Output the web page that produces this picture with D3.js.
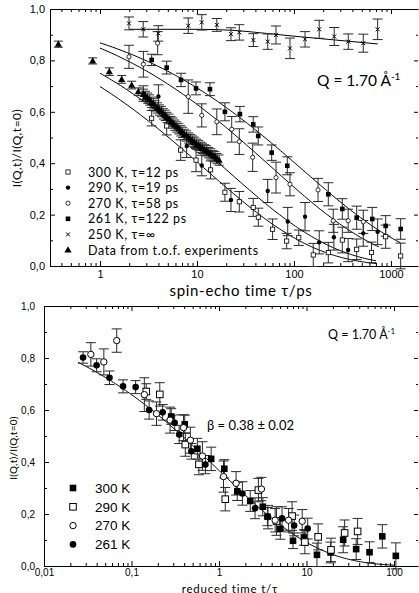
<!DOCTYPE html>
<html>
<head>
<meta charset="utf-8">
<script src="https://cdn.jsdelivr.net/npm/d3@7"></script>
<style>
  body { margin: 0; background: #fff; }
  svg { display: block; }
</style>
</head>
<body>
<svg id="fig" width="419" height="593"></svg>
<script>
// ---- measured intermediate scattering function I(Q,t)/I(Q,0), Q = 1.70 1/Å ----
// each point: [spin-echo time t (ps), I(Q,t)/I(Q,0), error]
const temps = ["300 K", "290 K", "270 K", "261 K"];
const tauPs = [12, 19, 58, 122];            // KWW relaxation times
const betaKWW = 0.38;                       // stretching exponent
const fitAmp = [1.03, 1.04, 1.05, 1.02];    // fit amplitudes
const fitEnd = [700, 700, 750, 1250];       // last time of each fit line (ps)

const data300 = [
  [3.41,0.575,0.030],[4.87,0.545,0.035],[6.79,0.451,0.040],[9.77,0.412,0.045],
  [13.8,0.374,0.035],[19.4,0.287,0.035],[27.3,0.250,0.040],[38,0.228,0.035],
  [42.9,0.190,0.035],[60.2,0.143,0.040],[84.1,0.097,0.030],[112,0.110,0.030],
  [158,0.043,0.045],[226,0.052,0.040],[315,0.101,0.050],[443,0.065,0.040],
  [630,0.053,0.040],[882,0.114,0.045],[1259,0.039,0.050]
];
const data290 = [
  [2.80,0.671,0.030],[4.0,0.660,0.045],[7.83,0.467,0.045],[11.2,0.391,0.040],
  [22.4,0.257,0.045],[53.6,0.292,0.045],[86.2,0.173,0.055],[130,0.192,0.055],
  [182,0.092,0.045],[258,0.112,0.050],[362,0.062,0.045],[518,0.127,0.050],
  [729,0.133,0.050]
];
const data270 = [
  [1.99,0.814,0.045],[2.80,0.785,0.050],[3.93,0.867,0.045],[8.13,0.659,0.065],
  [11.2,0.586,0.045],[16.0,0.561,0.050],[22.8,0.532,0.050],[27.3,0.484,0.050],
  [37.5,0.423,0.055],[65.3,0.344,0.060],[90.9,0.318,0.045],[177,0.296,0.045],
  [254,0.176,0.045],[362,0.176,0.045],[518,0.172,0.045]
];
const data261 = [
  [3.41,0.802,0.022],[4.87,0.772,0.025],[6.84,0.724,0.026],[9.77,0.691,0.025],
  [13.6,0.688,0.025],[19.4,0.600,0.035],[27.7,0.591,0.030],[38.0,0.551,0.030],
  [42.8,0.506,0.035],[58.9,0.441,0.030],[85.3,0.390,0.035],[226,0.279,0.045],
  [315,0.222,0.040],[443,0.188,0.045],[641,0.183,0.045],[882,0.156,0.040],
  [1259,0.144,0.040]
];
const data250 = [
  [1.99,0.944,0.025],[2.79,0.921,0.030],[3.99,0.905,0.030],[8.13,0.935,0.030],
  [11.2,0.948,0.030],[16.0,0.938,0.025],[22.4,0.902,0.025],[27.3,0.909,0.030],
  [38.1,0.879,0.025],[53.6,0.873,0.030],[65.2,0.899,0.035],[90.9,0.847,0.040],
  [130,0.882,0.030],[182,0.921,0.035],[260,0.893,0.035],[363,0.873,0.030],
  [518,0.867,0.035],[729,0.921,0.040]
];
// guide line through the 250 K (glassy) plateau: [t, value]
const guide250 = [[2,0.921],[10,0.921],[23.5,0.917],[52,0.905],[116,0.892],[730,0.864]];
// time-of-flight data
const dataTof = [
  [0.372,0.863,0.012],[0.841,0.798,0.012],[1.247,0.756,0.015],[1.673,0.726,0.015],
  [2.12,0.704,0.015],[2.48,0.678,0.015],[2.8,0.668,0.02],[2.95,0.660,0.02],
  [3.1,0.653,0.02],[3.25,0.646,0.02],[3.4,0.637,0.02],[3.55,0.631,0.02],
  [3.7,0.623,0.02],[3.9,0.615,0.02],[4.1,0.607,0.02],[4.3,0.601,0.02],
  [4.5,0.592,0.02],[4.7,0.586,0.02],[4.9,0.578,0.02],[5.15,0.571,0.02],
  [5.4,0.562,0.02],[5.65,0.556,0.02],[5.9,0.548,0.02],[6.2,0.541,0.02],
  [6.5,0.534,0.02],[6.8,0.526,0.02],[7.1,0.520,0.02],[7.4,0.512,0.02],
  [7.8,0.506,0.02],[8.2,0.498,0.02],[8.6,0.492,0.02],[9.0,0.486,0.02],
  [9.4,0.481,0.02],[9.9,0.474,0.02],[10.4,0.469,0.02],[10.9,0.462,0.02],
  [11.4,0.458,0.02],[12.0,0.452,0.02],[12.6,0.448,0.02],[13.2,0.441,0.02],
  [13.9,0.436,0.02],[14.6,0.429,0.02],[15.3,0.425,0.02],[16.1,0.418,0.02],
  [16.9,0.412,0.02]
];
const topLegend = ["300 K, τ=12 ps", "290 K, τ=19 ps", "270 K, τ=58 ps",
                   "261 K, τ=122 ps", "250 K, τ=∞", "Data from t.o.f. experiments"];
const topXTicks = [1, 10, 100, 1000];
const bottomXTicks = [0.01, 0.1, 1, 10, 100];
const yTicks = [0, 0.2, 0.4, 0.6, 0.8, 1.0];

const svg = d3.select("#fig");
const comma = d3.format(".1f");
const fmtY = v => comma(v).replace(".", ",");
const fmtX = v => String(v).replace(".", ",");
const humanist = "Lato, 'Open Sans', sans-serif";
const grotesk = "'Liberation Sans', Arial, sans-serif";

function minorLog(domain) {
  const out = [];
  for (let e = -3; e <= 4; e++) {
    for (let m = 2; m <= 9; m++) {
      const v = m * Math.pow(10, e);
      if (v > domain[0] && v < domain[1]) out.push(v);
    }
  }
  return out;
}

function kww(t, tau, a) { return a * Math.exp(-Math.pow(t / tau, betaKWW)); }
function logSpan(t0, t1, n) {
  return d3.range(n + 1).map(i => t0 * Math.pow(t1 / t0, i / n));
}

// ---------- marker painters ----------
function mark(g, kind, x, y, s) {
  if (kind === "openSquare") {
    g.append("rect").attr("x", x - s / 2).attr("y", y - s / 2).attr("width", s).attr("height", s)
      .attr("fill", "#fff").attr("stroke", "#000").attr("stroke-width", s > 5 ? 1 : 0.8);
  } else if (kind === "fillSquare") {
    g.append("rect").attr("x", x - s / 2).attr("y", y - s / 2).attr("width", s).attr("height", s)
      .attr("fill", "#000");
  } else if (kind === "openCircle") {
    g.append("circle").attr("cx", x).attr("cy", y).attr("r", s / 2)
      .attr("fill", "#fff").attr("stroke", "#000").attr("stroke-width", s > 5 ? 1 : 0.8);
  } else if (kind === "fillCircle") {
    g.append("circle").attr("cx", x).attr("cy", y).attr("r", s / 2).attr("fill", "#000");
  } else if (kind === "cross") {
    const h = s / 2;
    g.append("path").attr("d", `M${x - h},${y - h}L${x + h},${y + h}M${x - h},${y + h}L${x + h},${y - h}`)
      .attr("stroke", "#000").attr("stroke-width", 1);
  } else if (kind === "triangle") {
    g.append("path").attr("transform", `translate(${x},${y + 0.5})`)
      .attr("d", d3.symbol(d3.symbolTriangle, s * s * 0.75)()).attr("fill", "#000");
  }
}

function errorBars(g, pts, xs, ys, xKey, cap) {
  pts.forEach(p => {
    const x = xs(xKey(p)), y0 = ys(p[1] - p[2]), y1 = ys(p[1] + p[2]);
    g.append("path")
      .attr("d", `M${x},${y0}V${y1}M${x - cap},${y0}H${x + cap}M${x - cap},${y1}H${x + cap}`)
      .attr("stroke", "#2a2a2a").attr("stroke-width", 1).attr("fill", "none");
  });
}

function frame(xs, ys, xMajors, labelSize, padX, padY) {
  const g = svg.append("g").attr("class", "axes");
  const dom = xs.domain();
  const left = xs.range()[0], right = xs.range()[1];
  const top = ys.range()[1], bot = ys.range()[0];
  // bottom axis, major with labels
  const ax = g.append("g").attr("transform", `translate(0,${bot})`)
    .call(d3.axisBottom(xs).tickValues(xMajors).tickFormat(fmtX).tickSizeInner(-5).tickSizeOuter(0).tickPadding(padX));
  ax.selectAll("text").attr("font-family", grotesk).attr("font-size", labelSize).attr("fill", "#000");
  g.append("g").attr("transform", `translate(0,${bot})`)
    .call(d3.axisBottom(xs).tickValues(minorLog(dom)).tickFormat("").tickSizeInner(-3).tickSizeOuter(0))
    .call(s => s.select(".domain").remove());
  // top axis
  g.append("g").attr("transform", `translate(0,${top})`)
    .call(d3.axisTop(xs).tickValues(xMajors).tickFormat("").tickSizeInner(-5).tickSizeOuter(0));
  g.append("g").attr("transform", `translate(0,${top})`)
    .call(d3.axisTop(xs).tickValues(minorLog(dom)).tickFormat("").tickSizeInner(-3).tickSizeOuter(0))
    .call(s => s.select(".domain").remove());
  // left axis
  const ay = g.append("g").attr("transform", `translate(${left},0)`)
    .call(d3.axisLeft(ys).tickValues(yTicks).tickFormat(fmtY).tickSizeInner(-5).tickSizeOuter(0).tickPadding(padY));
  ay.selectAll("text").attr("font-family", grotesk).attr("font-size", labelSize).attr("fill", "#000");
  g.append("g").attr("transform", `translate(${left},0)`)
    .call(d3.axisLeft(ys).tickValues(d3.range(0.1, 1, 0.2)).tickFormat("").tickSizeInner(-3).tickSizeOuter(0))
    .call(s => s.select(".domain").remove());
  // right side: inward ticks only
  g.append("g").attr("transform", `translate(${right},0)`)
    .call(d3.axisRight(ys).tickValues(yTicks).tickFormat("").tickSizeInner(-4).tickSizeOuter(0))
    .call(s => s.select(".domain").remove());
  g.append("g").attr("transform", `translate(${right},0)`)
    .call(d3.axisRight(ys).tickValues(d3.range(0.1, 1, 0.2)).tickFormat("").tickSizeInner(-2).tickSizeOuter(0))
    .call(s => s.select(".domain").remove());
  g.selectAll(".domain").attr("stroke", "#000");
  g.selectAll(".tick line").attr("stroke", "#000");
}

// =================== upper panel: spin-echo time ===================
const xT = d3.scaleLog().domain([0.305, 1900]).range([50, 418]);
const yT = d3.scaleLinear().domain([0, 1]).range([266, 9]);
frame(xT, yT, topXTicks, 11, 4, 5);

const topLine = d3.line().x(d => xT(d[0])).y(d => yT(d[1]));
const gFitT = svg.append("g").attr("fill", "none").attr("stroke", "#000").attr("stroke-width", 1);
tauPs.forEach((tau, i) => {
  const pts = logSpan(1, fitEnd[i], 120).map(t => [t, kww(t, tau, fitAmp[i])]);
  gFitT.append("path").attr("d", topLine(pts));
});
gFitT.append("path").attr("d", d3.line().x(d => xT(d[0])).y(d => yT(d[1])).curve(d3.curveMonotoneX)(guide250));

const topSeries = [
  { pts: data300, kind: "openSquare", s: 4.2 },
  { pts: data290, kind: "fillCircle", s: 4.4 },
  { pts: data270, kind: "openCircle", s: 4.2 },
  { pts: data261, kind: "fillSquare", s: 4.6 },
  { pts: data250, kind: "cross", s: 4 },
  { pts: dataTof, kind: "triangle", s: 5.5 }
];
const gErrT = svg.append("g");
const gPtsT = svg.append("g");
topSeries.forEach(sr => {
  errorBars(gErrT, sr.pts, xT, yT, p => p[0], sr.kind === "triangle" ? 4.5 : 5);
  sr.pts.forEach(p => mark(gPtsT, sr.kind, xT(p[0]), yT(p[1]), sr.s));
});

// legend
const gLegT = svg.append("g");
topLegend.forEach((lab, i) => {
  const y = 172 + i * 15.6;
  mark(gLegT, topSeries[i].kind, 68, y, topSeries[i].s);
  gLegT.append("text").attr("x", 88).attr("y", y + 4.5).text(lab)
    .attr("font-family", humanist).attr("font-size", 12.5).attr("letter-spacing", 0.6);
});

const qT = svg.append("text").attr("x", 317).attr("y", 86)
  .attr("font-family", humanist).attr("font-size", 15.5);
qT.append("tspan").text("Q = 1.70 Å");
qT.append("tspan").attr("dy", -6).attr("font-size", 10).text("-1");

svg.append("text").attr("x", 241).attr("y", 296).attr("text-anchor", "middle")
  .attr("font-family", humanist).attr("font-size", 15).attr("letter-spacing", 0.7)
  .text("spin-echo time τ/ps");
svg.append("text").attr("transform", "translate(21,148) rotate(-90)").attr("text-anchor", "middle")
  .attr("font-family", humanist).attr("font-size", 12).attr("letter-spacing", 0.5)
  .text("I(Q,t)/I(Q,t=0)");

// =================== lower panel: master curve vs t/τ ===================
const xB = d3.scaleLog().domain([0.01, 188]).range([44, 418]);
const yB = d3.scaleLinear().domain([0, 1]).range([566, 306]);
frame(xB, yB, bottomXTicks, 10, 3, 9);

const master = logSpan(0.0245, 100, 160).map(r => [r, kww(r, 1, 1)]);
svg.append("path").attr("d", d3.line().x(d => xB(d[0])).y(d => yB(d[1]))(master))
  .attr("fill", "none").attr("stroke", "#000").attr("stroke-width", 1);

const bottomSeries = [
  { pts: data300, tau: tauPs[0], kind: "fillSquare", s: 6.6 },
  { pts: data290, tau: tauPs[1], kind: "openSquare", s: 6.6 },
  { pts: data270, tau: tauPs[2], kind: "openCircle", s: 6.4 },
  { pts: data261, tau: tauPs[3], kind: "fillCircle", s: 6.6 }
];
const gErrB = svg.append("g");
const gPtsB = svg.append("g");
bottomSeries.forEach(sr => {
  errorBars(gErrB, sr.pts, xB, yB, p => p[0] / sr.tau, 5);
});
bottomSeries.forEach(sr => {
  sr.pts.forEach(p => mark(gPtsB, sr.kind, xB(p[0] / sr.tau), yB(p[1]), sr.s));
});

const gLegB = svg.append("g");
temps.forEach((lab, i) => {
  const y = 488 + i * 18.8;
  mark(gLegB, bottomSeries[i].kind, 73, y, bottomSeries[i].s);
  gLegB.append("text").attr("x", 95).attr("y", y + 4.8).text(lab)
    .attr("font-family", grotesk).attr("font-size", 13.5);
});

const qB = svg.append("text").attr("x", 328).attr("y", 339)
  .attr("font-family", humanist).attr("font-size", 12.5);
qB.append("tspan").text("Q = 1.70 Å");
qB.append("tspan").attr("dy", -5).attr("font-size", 8).text("-1");

svg.append("text").attr("x", 207).attr("y", 430)
  .attr("font-family", humanist).attr("font-size", 13)
  .text(`β = ${betaKWW.toFixed(2)} ± 0.02`);

svg.append("text").attr("x", 230).attr("y", 592.5).attr("text-anchor", "middle")
  .attr("font-family", humanist).attr("font-size", 11.5).attr("letter-spacing", 0.8)
  .text("reduced time t/τ");
svg.append("text").attr("transform", "translate(17,448) rotate(-90)").attr("text-anchor", "middle")
  .attr("font-family", humanist).attr("font-size", 10).attr("letter-spacing", 0.3)
  .text("I(Q,t)/I(Q,t=0)");
</script>
</body>
</html>
